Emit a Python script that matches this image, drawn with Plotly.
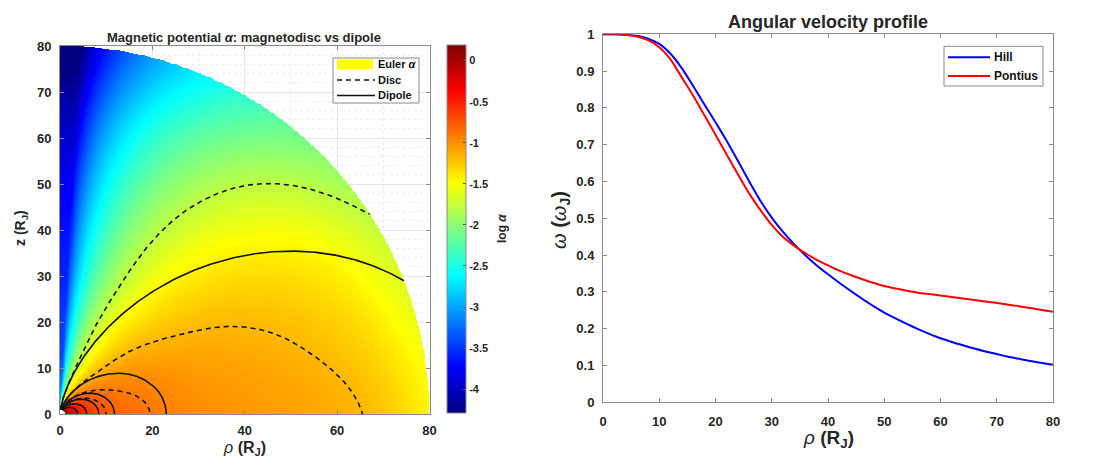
import numpy as np
import plotly.graph_objects as go

W, H = 1095, 461
OFF = 8  # page body margin of the rendered html
FONT = "Liberation Sans, Arial, Helvetica, sans-serif"
TXT = "#262626"
AX = "#8a8a8a"


def fx(px):
    return (px - OFF) / W


def fy(py):
    return 1 - (py - OFF) / H


# ---------------- right panel : angular velocity ----------------
rho_grid = list(range(0, 81, 2))
hill_omega = [1.0, 1.0, 0.999, 0.996, 0.988, 0.974, 0.947, 0.908, 0.86, 0.81, 0.761,
              0.71, 0.656, 0.6, 0.547, 0.502, 0.463, 0.429, 0.399, 0.372, 0.348, 0.325,
              0.303, 0.282, 0.262, 0.244, 0.228, 0.213, 0.199, 0.186, 0.174, 0.164, 0.155,
              0.146, 0.138, 0.131, 0.124, 0.118, 0.112, 0.107, 0.102]
pontius_omega = [1.0, 1.0, 0.999, 0.994, 0.984, 0.965, 0.932, 0.883, 0.834, 0.781, 0.727,
                 0.673, 0.619, 0.567, 0.522, 0.482, 0.449, 0.425, 0.405, 0.387, 0.372,
                 0.358, 0.346, 0.335, 0.325, 0.316, 0.309, 0.303, 0.298, 0.294, 0.29,
                 0.286, 0.282, 0.278, 0.274, 0.27, 0.265, 0.261, 0.256, 0.251, 0.246]
omega_ticks = [0, 0.1, 0.2, 0.3, 0.4, 0.5, 0.6, 0.7, 0.8, 0.9, 1]

# ---------------- left panel : magnetodisc Euler potential ----------------
R_OUT = 80.0
# log10 enhancement of the disc alpha over the dipole alpha along the equator
eq_r = [1, 2, 5, 8, 10, 12, 15, 19.5, 25, 30, 40, 50, 60, 65, 70, 75, 80]
eq_h = [0.19, 0.15, 0.17, 0.2, 0.23, 0.26, 0.32, 0.395, 0.44, 0.48, 0.57, 0.635, 0.665,
        0.665, 0.63, 0.56, 0.45]
# latitude weight of that enhancement on the outer boundary r = 80
lat_deg = [0, 10, 20, 32, 47, 60, 70, 80, 90]
lat_w = [1.0, 0.8, 0.67, 0.6, 0.4, 0.22, 0.15, 0.12, 0.1]
# a point (rho, z) that each dashed (disc) contour passes through
disc_rho = [10, 19.5, 65.5, 47.8]
disc_z = [0, 0, 0, 50]
dipole_L = [3.8, 5.8, 8.4, 11.8, 23, 92]           # equatorial crossing of solid contours
cbar_ticks = [0, -0.5, -1, -1.5, -2, -2.5, -3, -3.5, -4]
cbar_labels = ["0", "-0.5", "-1", "-1.5", "-2", "-2.5", "-3", "-3.5", "-4"]
ZMIN, ZMAX = -4.29, 0.19


def smooth_table(xt, yt, lo, hi, sigma):
    xf = np.linspace(lo, hi, 2001)
    yf = np.interp(xf, xt, yt)
    dx = xf[1] - xf[0]
    n = int(4 * sigma / dx)
    k = np.exp(-0.5 * (np.arange(-n, n + 1) * dx / sigma) ** 2)
    k /= k.sum()
    ys = np.convolve(np.pad(yf, n, mode="edge"), k, mode="valid")
    return xf, ys


HR, HS = smooth_table(eq_r, eq_h, 0, 100, 3.0)
LR, LS = smooth_table(lat_deg, lat_w, -30, 120, 5.0)


def log_alpha_disc(rho, z):
    r = np.hypot(rho, z)
    s = np.maximum(rho / r, 0.0523)
    lam = np.degrees(np.arctan2(z, rho))
    heq = np.interp(r, HR, HS)
    wb = np.interp(lam, LR, LS)
    h = heq * (1 - (r / R_OUT) ** 2.8 * (1 - wb))
    return np.log10(s ** 2 / r) + h


def log_alpha_dipole(rho, z):
    r = np.hypot(rho, z)
    s = np.maximum(rho / r, 1e-6)
    return np.log10(s ** 2 / r)


def contour_line(field, level):
    rr = np.linspace(1.0, R_OUT, 1500)
    xs, ys = [], []
    for t in np.radians(np.linspace(0.3, 90, 600)):
        f = field(rr * np.sin(t), rr * np.cos(t))
        if f[0] < level or f[-1] > level:
            xs.append(None); ys.append(None)
            continue
        r0 = np.interp(level, f[::-1], rr[::-1])
        xs.append(r0 * np.sin(t)); ys.append(r0 * np.cos(t))
    return xs, ys


g = np.linspace(0, 80, 451)
RHO, ZZ = np.meshgrid(g, g)
with np.errstate(divide="ignore", invalid="ignore"):
    RR = np.hypot(RHO, ZZ)
    FF = log_alpha_disc(RHO, ZZ)
FF[(RR < 1.0) | (RR > R_OUT)] = np.nan
FF = np.round(FF, 3)

jet = [[0.0, "rgb(0,0,128)"], [0.125, "rgb(0,0,255)"], [0.375, "rgb(0,255,255)"],
       [0.625, "rgb(255,255,0)"], [0.875, "rgb(255,0,0)"], [1.0, "rgb(128,0,0)"]]

fig = go.Figure()
fig.add_trace(go.Heatmap(
    x=g, y=g, z=FF, colorscale=jet, zmin=ZMIN, zmax=ZMAX, xaxis="x", yaxis="y",
    hoverinfo="skip", showlegend=False,
    colorbar=dict(x=fx(447), xanchor="left", y=fy(229), yanchor="middle",
                  len=368 / H, lenmode="fraction", thickness=19, xpad=0, ypad=0,
                  outlinewidth=1, outlinecolor=AX, ticks="inside", ticklen=3,
                  tickcolor="#555", tickvals=cbar_ticks, ticktext=cbar_labels,
                  tickfont=dict(family=FONT, size=11, color=TXT, weight="bold"))))

DISC_LINE = dict(color="#111", width=1.6, dash="5px,4px")
DIP_LINE = dict(color="#111", width=1.6)
with np.errstate(divide="ignore", invalid="ignore"):
    for pr, pz in zip(disc_rho, disc_z):
        lv = float(log_alpha_disc(np.array([pr]), np.array([pz]))[0])
        xs, ys = contour_line(log_alpha_disc, lv)
        fig.add_trace(go.Scatter(x=xs, y=ys, mode="lines", xaxis="x", yaxis="y",
                                 line=DISC_LINE, name="Disc", showlegend=False,
                                 hoverinfo="skip"))
    for L in dipole_L:
        xs, ys = contour_line(log_alpha_dipole, -np.log10(L))
        fig.add_trace(go.Scatter(x=xs, y=ys, mode="lines", xaxis="x", yaxis="y",
                                 line=DIP_LINE, name="Dipole", showlegend=False,
                                 hoverinfo="skip"))

# right panel curves
fig.add_trace(go.Scatter(x=rho_grid, y=hill_omega, mode="lines", name="Hill",
                         line=dict(color="#0000ff", width=2, shape="spline", smoothing=0.6),
                         xaxis="x2", yaxis="y2", showlegend=False))
fig.add_trace(go.Scatter(x=rho_grid, y=pontius_omega, mode="lines", name="Pontius",
                         line=dict(color="#ff0000", width=2, shape="spline", smoothing=0.6),
                         xaxis="x2", yaxis="y2", showlegend=False))

tickfont = dict(family=FONT, size=13, color=TXT, weight="bold")
common = dict(showline=True, linecolor=AX, linewidth=1, mirror="ticks", ticks="inside",
              ticklen=4, tickcolor=AX, zeroline=False, tickfont=tickfont, fixedrange=True,
              automargin=False)

fig.update_layout(
    template="none",
    font=dict(family=FONT, color=TXT),
    width=W, height=H, autosize=False,
    margin=dict(l=0, r=0, t=0, b=0, pad=0, autoexpand=False),
    paper_bgcolor="white", plot_bgcolor="white", showlegend=False,
    xaxis=dict(domain=[fx(60), fx(429.5)], range=[0, 80], tickvals=[0, 20, 40, 60, 80],
               anchor="y", showgrid=True, gridcolor="#e6e6e6", gridwidth=1, ticklabelstandoff=4,
               minor=dict(dtick=10, showgrid=True, gridcolor="#ededed", griddash="dot"),
               **common),
    yaxis=dict(domain=[fy(414), fy(46)], range=[0, 80], dtick=10, anchor="x",
               showgrid=True, gridcolor="#e6e6e6", gridwidth=1, ticklabelstandoff=5,
               minor=dict(dtick=2, showgrid=True, gridcolor="#ededed", griddash="dot"),
               **common),
    xaxis2=dict(domain=[fx(603), fx(1053)], range=[0, 80], dtick=10, anchor="y2",
                showgrid=False, ticklabelstandoff=7, **common),
    yaxis2=dict(domain=[fy(402.3), fy(34.3)], range=[0, 1], tickvals=omega_ticks,
                ticktext=[("%g" % v) for v in omega_ticks], anchor="x2", showgrid=False,
                ticklabelstandoff=5, **common),
)

# ---- hand-placed legends (paper coordinates) ----
def pline(x0, x1, y, line):
    fig.add_shape(type="line", xref="paper", yref="paper", x0=fx(x0), x1=fx(x1),
                  y0=fy(y), y1=fy(y), line=line, layer="above")


def ptext(x, y, text, size):
    fig.add_annotation(xref="paper", yref="paper", x=fx(x), y=fy(y), text=text,
                       showarrow=False, xanchor="left", yanchor="middle",
                       font=dict(family=FONT, size=size, color="#111", weight="bold"))


for (x0, y0, x1, y1) in [(333, 58, 419, 103), (944, 46.3, 1043, 86)]:
    fig.add_shape(type="rect", xref="paper", yref="paper", x0=fx(x0), x1=fx(x1),
                  y0=fy(y1), y1=fy(y0), fillcolor="white", line=dict(color=AX, width=1),
                  layer="above")
fig.add_shape(type="rect", xref="paper", yref="paper", x0=fx(337), x1=fx(373),
              y0=fy(69), y1=fy(59.5), fillcolor="#ffff00", line=dict(width=0), layer="above")
ptext(376, 64, "Euler <i>α</i>", 11)
pline(337, 375, 80, DISC_LINE)
ptext(376, 80, "Disc", 11)
pline(337, 375, 95.5, DIP_LINE)
ptext(376, 95.5, "Dipole", 11)
pline(948, 990, 57.3, dict(color="#0000ff", width=2))
ptext(992, 57.3, "Hill", 12)
pline(948, 990, 76, dict(color="#ff0000", width=2))
ptext(992, 76, "Pontius", 12)

ann = [
    dict(x=fx(244), y=fy(37.5), text="<b>Magnetic potential <i>α</i>: magnetodisc vs dipole</b>",
         font=dict(size=13)),
    dict(x=fx(828), y=fy(22), text="<b>Angular velocity profile</b>", font=dict(size=18)),
    dict(x=fx(244), y=fy(448), text="<i>ρ</i> <b>(R<sub>J</sub>)</b>", font=dict(size=16)),
    dict(x=fx(21), y=fy(228), text="<b>z (R<sub>J</sub>)</b>", textangle=-90,
         font=dict(size=14)),
    dict(x=fx(502), y=fy(229), text="<b>log <i>α</i></b>", textangle=-90,
         font=dict(size=12)),
    dict(x=fx(828), y=fy(439), text="<i>ρ</i> <b>(R<sub>J</sub>)</b>", font=dict(size=19)),
    dict(x=fx(560), y=fy(220), text="<i>ω</i> <b>(</b><i>ω</i><b><sub>J</sub>)</b>",
         textangle=-90, font=dict(size=20)),
]
for a in ann:
    a.update(xref="paper", yref="paper", showarrow=False, xanchor="center", yanchor="middle")
    a["font"].update(family=FONT, color=TXT)
    fig.add_annotation(**a)

fig.write_html("out.html")
